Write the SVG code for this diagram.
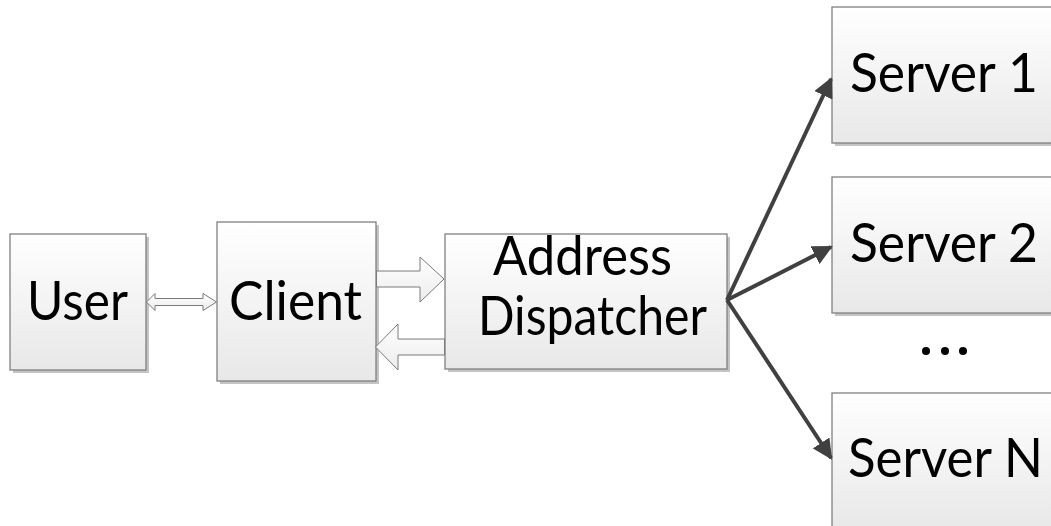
<svg xmlns="http://www.w3.org/2000/svg" width="1051" height="526" viewBox="0 0 1051 526">
<defs>
<linearGradient id="g" x1="0" y1="0" x2="0" y2="1">
<stop offset="0" stop-color="#ffffff"/>
<stop offset="1" stop-color="#e8e8e8"/>
</linearGradient>
<linearGradient id="ga" x1="0" y1="0" x2="0" y2="1">
<stop offset="0" stop-color="#ffffff"/>
<stop offset="1" stop-color="#ececec"/>
</linearGradient>
<marker id="ah" viewBox="0 0 10 10" refX="9" refY="5" markerWidth="5" markerHeight="5" markerUnits="strokeWidth" orient="auto">
<path d="M0,0 L10,5 L0,10 Z" fill="#404040"/>
</marker>
</defs>
<style>
.shadow{fill:#c4c4c4}
.box{fill:url(#g);stroke:#808080;stroke-width:1.3}
.lbl{font-family:Lato,"Open Sans",sans-serif;font-size:54px;fill:#000}
.conn{stroke:#404040;stroke-width:4;fill:none;marker-end:url(#ah)}
.blk{fill:url(#ga);stroke:#7a7a7a;stroke-width:1}
</style>
<rect width="1051" height="526" fill="#ffffff"/>
<g id="user">
<rect class="shadow" x="13" y="237" width="136" height="136"/>
<rect class="box" x="10" y="234" width="136" height="136"/>
<text class="lbl" x="27" y="320" textLength="101" lengthAdjust="spacingAndGlyphs">User</text>
</g>
<g id="client">
<rect class="shadow" x="220" y="225" width="159" height="159"/>
<rect class="box" x="217" y="222" width="159" height="159"/>
<text class="lbl" x="229" y="320" textLength="133" lengthAdjust="spacingAndGlyphs">Client</text>
</g>
<g id="dispatcher">
<rect class="shadow" x="448" y="237" width="282" height="135"/>
<rect class="box" x="445" y="234" width="282" height="135"/>
<text class="lbl" x="493" y="275" textLength="179" lengthAdjust="spacingAndGlyphs">Address</text>
<text class="lbl" x="478" y="335" textLength="229" lengthAdjust="spacingAndGlyphs">Dispatcher</text>
</g>
<g id="server1">
<rect class="shadow" x="835" y="10" width="230" height="136"/>
<rect class="box" x="832" y="7" width="230" height="136"/>
<text class="lbl" x="850" y="92" textLength="188" lengthAdjust="spacingAndGlyphs">Server 1</text>
</g>
<g id="server2">
<rect class="shadow" x="835" y="180" width="230" height="136"/>
<rect class="box" x="832" y="177" width="230" height="136"/>
<text class="lbl" x="850" y="262" textLength="188" lengthAdjust="spacingAndGlyphs">Server 2</text>
</g>
<g id="ellipsis">
<circle cx="926" cy="351" r="4" fill="#000"/>
<circle cx="945" cy="351" r="4" fill="#000"/>
<circle cx="963" cy="351" r="4" fill="#000"/>
</g>
<g id="serverN">
<rect class="shadow" x="835" y="396" width="230" height="136"/>
<rect class="box" x="832" y="393" width="230" height="136"/>
<text class="lbl" x="848" y="477" textLength="195" lengthAdjust="spacingAndGlyphs">Server N</text>
</g>
<g id="connectors">
<path class="blk" d="M146.5,302 L155,293.5 L155,298.5 L203,298.5 L203,293.5 L216.5,302 L203,310.5 L203,305.5 L155,305.5 L155,310.5 Z"/>
<path class="blk" d="M376.5,271 L420,271 L420,257 L444,279 L420,302 L420,287 L376.5,287 Z"/>
<path class="blk" d="M444.5,339 L398,339 L398,324 L375.5,347 L398,370 L398,355 L444.5,355 Z"/>
<line class="conn" x1="727" y1="300" x2="831" y2="79"/>
<line class="conn" x1="727" y1="300" x2="831" y2="247"/>
<line class="conn" x1="727" y1="300" x2="831" y2="458"/>
</g>
</svg>
